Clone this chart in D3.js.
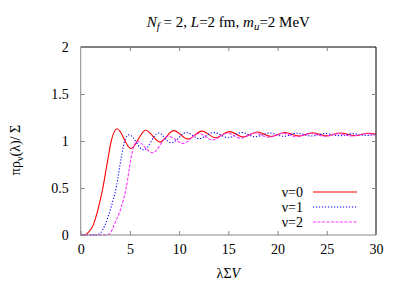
<!DOCTYPE html>
<html>
<head>
<meta charset="utf-8">
<script src="https://cdn.jsdelivr.net/npm/d3@7"></script>
<style>
  body { margin: 0; background: #fff; }
  svg text { font-family: "Liberation Serif", "Times New Roman", "DejaVu Serif", serif; }
</style>
</head>
<body>
<script>
// values
const xTicks = [0, 5, 10, 15, 20, 25, 30];
const yTicks = [0, 0.5, 1, 1.5, 2];
const yTickLabels = ['0', '0.5', '1', '1.5', '2'];

const nu0X = [0, 0.4, 0.8, 1.25, 1.75, 2.25, 2.75, 3.1, 3.7, 5.1, 6.6, 8.05, 9.45, 10.9, 12.3, 13.7, 15.12, 16.5, 17.94, 19.35, 20.76, 22.15, 23.58, 25.0, 26.4, 27.8, 29.22, 30];
const nu0Y = [0, 0, 0.03, 0.1, 0.27, 0.5, 0.8, 1.0, 1.13, 0.92, 1.115, 0.99, 1.11, 1.02, 1.105, 1.035, 1.1, 1.043, 1.095, 1.048, 1.09, 1.052, 1.088, 1.055, 1.085, 1.057, 1.083, 1.072];

const nu1X = [0, 1.6, 2.0, 2.44, 3.1, 3.62, 4.13, 4.47, 4.9, 6.4, 7.9, 9.2, 10.75, 12.0, 13.5, 15.0, 16.35, 17.7, 19.2, 20.6, 21.95, 23.45, 24.8, 26.3, 27.6, 29.05, 30];
const nu1Y = [0, 0, 0.02, 0.1, 0.3, 0.51, 0.83, 1.0, 1.065, 0.905, 1.085, 0.98, 1.09, 1.025, 1.09, 1.035, 1.09, 1.045, 1.085, 1.05, 1.083, 1.053, 1.08, 1.056, 1.078, 1.058, 1.07];

const nu2X = [0, 2.6, 3.0, 3.45, 4.13, 4.64, 5.08, 5.45, 5.75, 7.3, 8.9, 10.4, 12.0, 13.4, 14.9, 16.25, 17.7, 19.1, 20.5, 21.9, 23.35, 24.75, 26.15, 27.55, 28.95, 30];
const nu2Y = [0, 0, 0.02, 0.12, 0.3, 0.51, 0.8, 0.96, 0.995, 0.875, 1.05, 0.975, 1.08, 1.01, 1.085, 1.03, 1.085, 1.04, 1.083, 1.047, 1.08, 1.05, 1.078, 1.053, 1.077, 1.065];

const seriesNames = ['\u03bd=0', '\u03bd=1', '\u03bd=2'];
const seriesColors = ['#ff0000', '#0000ff', '#ff33ff'];
const seriesDash = [null, '1.2,1.8', '3,1.5'];

function makeChart() {
  const [w, h] = [403, 282];
  const margin = { left: 80.7, right: 27, top: 47, bottom: 47 };
  const fs = '14px';

  const svg = d3.select('body')
    .append('svg')
    .attr('width', w)
    .attr('height', h);

  const xScale = d3.scaleLinear().domain([0, 30]).range([margin.left, w - margin.right]);
  const yScale = d3.scaleLinear().domain([0, 2]).range([h - margin.bottom, margin.top]);

  // curves
  const series = [
    { x: nu0X, y: nu0Y },
    { x: nu1X, y: nu1Y },
    { x: nu2X, y: nu2Y }
  ];
  const line = d3.line()
    .x(d => xScale(d[0]))
    .y(d => yScale(d[1]))
    .curve(d3.curveMonotoneX);

  const plot = svg.append('g');
  series.forEach((s, i) => {
    plot.append('path')
      .datum(s.x.map((x, j) => [x, s.y[j]]))
      .attr('fill', 'none')
      .attr('stroke', seriesColors[i])
      .attr('stroke-width', 1.1)
      .attr('stroke-dasharray', seriesDash[i])
      .attr('d', line);
  });

  // border
  const x0 = xScale(0), x1 = xScale(30), y0 = yScale(0), y1 = yScale(2);
  svg.append('line').attr('x1', x0).attr('x2', x1).attr('y1', y1).attr('y2', y1).attr('stroke', '#000');
  svg.append('line').attr('x1', x1).attr('x2', x1).attr('y1', y1).attr('y2', y0).attr('stroke', '#000');
  svg.append('line').attr('x1', x0).attr('x2', x0).attr('y1', y1).attr('y2', y0).attr('stroke', '#888');
  svg.append('line').attr('x1', x0).attr('x2', x1).attr('y1', y0).attr('y2', y0).attr('stroke', '#888');

  const xAxis = d3.axisBottom(xScale).tickValues(xTicks).tickSize(-4).tickPadding(9).tickFormat(d3.format('d'));
  const yAxis = d3.axisLeft(yScale).tickValues(yTicks).tickSize(-4).tickPadding(12).tickFormat((d, i) => yTickLabels[i]);

  const gx = svg.append('g').attr('transform', `translate(0,${y0})`).call(xAxis);
  const gy = svg.append('g').attr('transform', `translate(${x0},0)`).call(yAxis);
  [gx, gy].forEach(g => {
    g.select('.domain').remove();
    g.selectAll('.tick line').attr('stroke', '#888');
    g.selectAll('.tick text').attr('fill', '#000').style('font-size', fs);
  });

  // mirrored ticks on top / right
  svg.append('g').attr('transform', `translate(0,${y1})`)
    .call(d3.axisTop(xScale).tickValues(xTicks.slice(1, -1)).tickSize(-4).tickFormat(''))
    .call(g => g.select('.domain').remove())
    .selectAll('.tick line').attr('stroke', '#888');
  svg.append('g').attr('transform', `translate(${x1},0)`)
    .call(d3.axisRight(yScale).tickValues(yTicks.slice(1, -1)).tickSize(-4).tickFormat(''))
    .call(g => g.select('.domain').remove())
    .selectAll('.tick line').attr('stroke', '#888');

  // title
  const title = svg.append('text')
    .attr('x', (x0 + x1) / 2)
    .attr('y', 27)
    .attr('text-anchor', 'middle')
    .style('font-size', '15px');
  title.append('tspan').attr('font-style', 'italic').text('N');
  title.append('tspan').attr('font-style', 'italic').style('font-size', '11px').attr('dy', 3).text('f');
  title.append('tspan').attr('dy', -3).text(' = 2, ');
  title.append('tspan').attr('font-style', 'italic').text('L');
  title.append('tspan').text('=2 fm, ');
  title.append('tspan').attr('font-style', 'italic').text('m');
  title.append('tspan').attr('font-style', 'italic').style('font-size', '11px').attr('dy', 3).text('u');
  title.append('tspan').attr('dy', -3).text('=2 MeV');

  // x label
  const xl = svg.append('text')
    .attr('x', (x0 + x1) / 2)
    .attr('y', 278)
    .attr('text-anchor', 'middle')
    .style('font-size', fs);
  xl.append('tspan').text('\u03bb\u03a3');
  xl.append('tspan').attr('font-style', 'italic').text('V');

  // y label
  const yl = svg.append('text')
    .attr('transform', 'translate(20,150) rotate(-90)')
    .attr('text-anchor', 'middle')
    .style('font-size', fs);
  yl.append('tspan').text('\u03c0\u03c1');
  yl.append('tspan').style('font-size', '10px').attr('dy', 3).text('\u03bd');
  yl.append('tspan').attr('dy', -3).text('(\u03bb)/ \u03a3');

  // legend
  const legend = svg.append('g');
  seriesNames.forEach((name, i) => {
    const ly = 192 + i * 15;
    legend.append('text')
      .attr('x', 303)
      .attr('y', ly + 5)
      .attr('text-anchor', 'end')
      .style('font-size', fs)
      .text(name);
    legend.append('line')
      .attr('x1', 313).attr('x2', 357)
      .attr('y1', ly).attr('y2', ly)
      .attr('stroke', seriesColors[i])
      .attr('stroke-width', 1.1)
      .attr('stroke-dasharray', seriesDash[i]);
  });
}

makeChart();
</script>
</body>
</html>
